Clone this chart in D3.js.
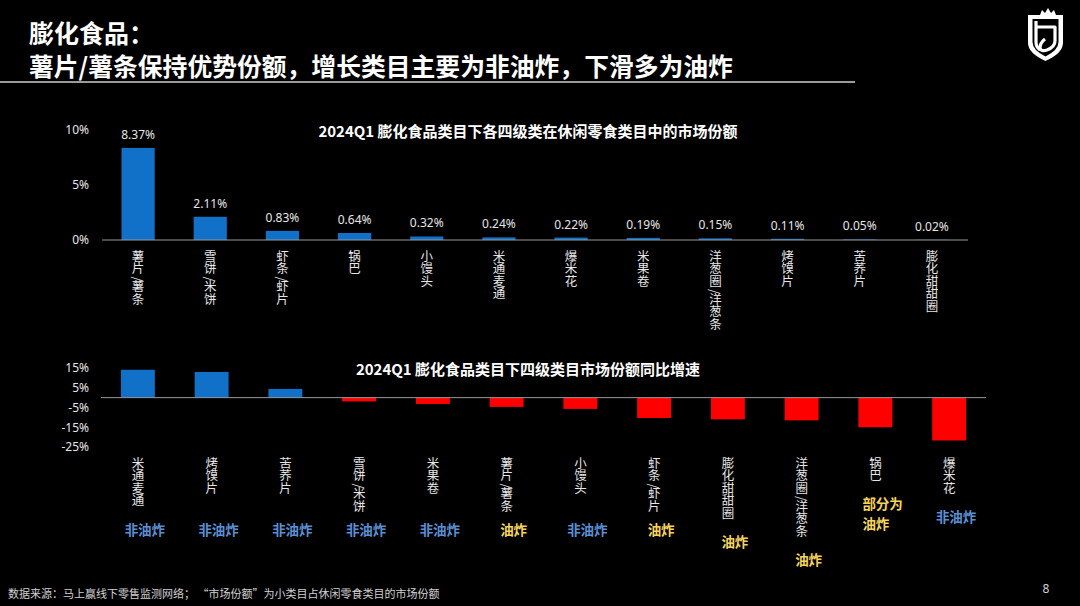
<!DOCTYPE html>
<html>
<head>
<meta charset="utf-8">
<script src="https://cdn.jsdelivr.net/npm/d3@7"></script>
<style>
  html, body { margin: 0; padding: 0; background: #000; }
  svg { display: block; font-family: "Noto Sans CJK SC", "Noto Sans", sans-serif; }
</style>
</head>
<body>
<div id="chart"></div>
<script>
// market share of each sub-category, 2024Q1 (%)
var shareCats = ["薯片/薯条", "雪饼/米饼", "虾条/虾片", "锅巴", "小馒头", "米通麦通", "爆米花", "米果卷", "洋葱圈/洋葱条", "烤馍片", "苦荞片", "膨化甜甜圈"];
var shareVals = [8.37, 2.11, 0.83, 0.64, 0.32, 0.24, 0.22, 0.19, 0.15, 0.11, 0.05, 0.02];
var shareTicks = [0, 5, 10];

// year-on-year growth of market share (%)
var growthCats = ["米通麦通", "烤馍片", "苦荞片", "雪饼/米饼", "米果卷", "薯片/薯条", "小馒头", "虾条/虾片", "膨化甜甜圈", "洋葱圈/洋葱条", "锅巴", "爆米花"];
var growthVals = [14.1, 13.0, 4.4, -1.9, -3.2, -4.7, -5.7, -10.3, -11.0, -11.5, -15.0, -21.7];
var growthTicks = [15, 5, -5, -15, -25];
var growthNotes = ["非油炸", "非油炸", "非油炸", "非油炸", "非油炸", "油炸", "非油炸", "油炸", "油炸", "油炸", "部分为\n油炸", "非油炸"];

var width = 1080
var height = 606
var blue = "#1170c8"
var red = "#ff0000"
var textCol = "#e6e6e6"
var lineCol = "#9a9a9a"
var labelSize = 12.5

var svg = d3.select("#chart")
	.append("svg")
	.attr("width", width)
	.attr("height", height);

svg.append("rect")
	.attr("width", width)
	.attr("height", height)
	.attr("fill", "#000");

// header
svg.append("text")
	.attr("x", 29).attr("y", 32)
	.attr("dominant-baseline", "central")
	.attr("fill", "#fff")
	.style("font-size", "25px").style("font-weight", "bold")
	.text("膨化食品：");
svg.append("text")
	.attr("x", 29).attr("y", 65)
	.attr("dominant-baseline", "central")
	.attr("fill", "#fff")
	.style("font-size", "24.8px").style("font-weight", "bold")
	.text("薯片/薯条保持优势份额，增长类目主要为非油炸，下滑多为油炸");
svg.append("line")
	.attr("x1", 0).attr("x2", 855)
	.attr("y1", 82).attr("y2", 82)
	.attr("stroke", "#cfcfcf")
	.attr("stroke-width", 1.5);

// logo (shield with crown)
var logo = svg.append("g").attr("transform", "translate(1028,8)");
logo.append("path")
	.attr("d", "M0,7 L12,7 L14,2 L17,5 L20,0 L23,5 L26,2 L28,7 L35,7 L35,35 Q35,45 17.5,53 Q0,45 0,35 Z")
	.attr("fill", "#fff");
logo.append("path")
	.attr("d", "M4.5,11 L30.5,11 L30.5,34 Q30.5,42 17.5,48.5 Q4.5,42 4.5,34 Z")
	.attr("fill", "#000");
logo.append("path")
	.attr("d", "M8,13 L8,34 Q8,39 12,42 M8,19 L27,19 L27,33 Q27,39 19,42 Q13,44 12,40 Q12,35 17,31")
	.attr("fill", "none")
	.attr("stroke", "#fff")
	.attr("stroke-width", 3.2)
	.attr("stroke-linejoin", "round");

// stack the axis label characters top to bottom
function verticalLabels(axisG, pad) {
	axisG.selectAll(".tick text").each(function (d) {
		var t = d3.select(this)
			.text(null)
			.attr("dy", null)
			.attr("y", null)
			.attr("text-anchor", "middle")
			.attr("fill", textCol)
			.style("font-size", labelSize + "px")
			.style("font-family", "\"Noto Sans CJK SC\", sans-serif");
		var y = pad;
		Array.from(d).forEach(function (c) {
			if (c == "/") {
				t.append("tspan")
					.attr("x", -0.2 * labelSize)
					.attr("y", y + 0.12 * labelSize)
					.attr("rotate", 90)
					.text(c);
				y += 0.45 * labelSize;
			} else {
				t.append("tspan")
					.attr("x", 0)
					.attr("y", y + 0.86 * labelSize)
					.text(c);
				y += 1.0 * labelSize;
			}
		});
	});
}

// ---------- top chart: market share ----------
var x1 = d3.scaleBand()
	.domain(shareCats)
	.range([102, 968])
	.paddingInner(0.54)
	.paddingOuter(0.27);
var y1 = d3.scaleLinear()
	.domain([0, 10])
	.range([240, 130]);

svg.append("text")
	.attr("x", 528).attr("y", 130)
	.attr("text-anchor", "middle")
	.attr("dominant-baseline", "central")
	.attr("fill", "#fff")
	.style("font-size", "15px").style("font-weight", "bold")
	.text("2024Q1 膨化食品类目下各四级类在休闲零食类目中的市场份额");

var yAxis1 = svg.append("g")
	.attr("transform", "translate(92,0)")
	.call(d3.axisLeft(y1).tickValues(shareTicks).tickSize(0).tickPadding(3).tickFormat(function (d) { return d + "%"; }));
yAxis1.select(".domain").remove();
yAxis1.selectAll("text")
	.attr("fill", textCol)
	.style("font-size", "12px")
	.style("font-family", "\"Noto Sans\", sans-serif");

svg.append("g").selectAll("rect")
	.data(shareVals)
	.enter()
	.append("rect")
	.attr("x", function (d, i) { return x1(shareCats[i]); })
	.attr("y", function (d) { return y1(d); })
	.attr("width", x1.bandwidth())
	.attr("height", function (d) { return y1(0) - y1(d); })
	.attr("fill", blue);

svg.append("g").selectAll("text")
	.data(shareVals)
	.enter()
	.append("text")
	.attr("x", function (d, i) { return x1(shareCats[i]) + x1.bandwidth() / 2; })
	.attr("y", function (d) { return y1(d) - 9; })
	.attr("text-anchor", "middle")
	.attr("fill", textCol)
	.style("font-size", "12px")
	.style("font-family", "\"Noto Sans\", sans-serif")
	.text(function (d) { return d3.format(".2f")(d) + "%"; });

svg.append("line")
	.attr("x1", 102).attr("x2", 968)
	.attr("y1", y1(0)).attr("y2", y1(0))
	.attr("stroke", lineCol)
	.attr("stroke-width", 1);

var xAxis1 = svg.append("g")
	.attr("transform", "translate(0," + y1(0) + ")")
	.call(d3.axisBottom(x1).tickSize(0));
xAxis1.select(".domain").remove();
verticalLabels(xAxis1, 10);

// ---------- bottom chart: growth ----------
var x2 = d3.scaleBand()
	.domain(growthCats)
	.range([101, 986])
	.paddingInner(0.54)
	.paddingOuter(0.27);
var y2 = d3.scaleLinear()
	.domain([-25, 15])
	.range([447, 368]);

svg.append("text")
	.attr("x", 528).attr("y", 368)
	.attr("text-anchor", "middle")
	.attr("dominant-baseline", "central")
	.attr("fill", "#fff")
	.style("font-size", "15px").style("font-weight", "bold")
	.text("2024Q1 膨化食品类目下四级类目市场份额同比增速");

var yAxis2 = svg.append("g")
	.attr("transform", "translate(92,0)")
	.call(d3.axisLeft(y2).tickValues(growthTicks).tickSize(0).tickPadding(3).tickFormat(function (d) { return d + "%"; }));
yAxis2.select(".domain").remove();
yAxis2.selectAll("text")
	.attr("fill", textCol)
	.style("font-size", "12px")
	.style("font-family", "\"Noto Sans\", sans-serif");

svg.append("g").selectAll("rect")
	.data(growthVals)
	.enter()
	.append("rect")
	.attr("x", function (d, i) { return x2(growthCats[i]); })
	.attr("y", function (d) { return y2(Math.max(0, d)); })
	.attr("width", x2.bandwidth())
	.attr("height", function (d) { return Math.abs(y2(d) - y2(0)); })
	.attr("fill", function (d) { return d >= 0 ? blue : red; });

svg.append("line")
	.attr("x1", 101).attr("x2", 986)
	.attr("y1", y2(0)).attr("y2", y2(0))
	.attr("stroke", lineCol)
	.attr("stroke-width", 1);

var xAxis2 = svg.append("g")
	.attr("transform", "translate(0," + y2(-25) + ")")
	.call(d3.axisBottom(x2).tickSize(0));
xAxis2.select(".domain").remove();
verticalLabels(xAxis2, 10);

// fried / non-fried notes under the labels
var hugLabel = new Set(["锅巴", "爆米花"]);
var notes = svg.append("g");
xAxis2.selectAll(".tick").each(function (cat) {
	var i = growthCats.indexOf(cat);
	var bb = d3.select(this).select("text").node().getBBox();
	var end = y2(-25) + bb.y + bb.height;
	var cy = (hugLabel.has(cat) || end + 19 > 536) ? end + 19 : 529;
	var cx = x2(cat) + x2.bandwidth() / 2 + 7;
	var lines = growthNotes[i].split("\n");
	var col = growthNotes[i] == "非油炸" ? "#5b8fd3" : "#f6d55c";
	lines.forEach(function (t, k) {
		notes.append("text")
			.attr("x", lines.length > 1 ? cx - 20 : cx)
			.attr("y", cy + k * 20)
			.attr("text-anchor", lines.length > 1 ? "start" : "middle")
			.attr("dominant-baseline", "central")
			.attr("fill", col)
			.style("font-size", "13.5px").style("font-weight", "bold")
			.text(t);
	});
});

// footer
svg.append("text")
	.attr("x", 8).attr("y", 593)
	.attr("dominant-baseline", "central")
	.attr("fill", "#d0d0d0")
	.style("font-size", "11px")
	.text("数据来源：马上赢线下零售监测网络；   “市场份额”为小类目占休闲零食类目的市场份额");
svg.append("text")
	.attr("x", 1046).attr("y", 588)
	.attr("text-anchor", "middle")
	.attr("dominant-baseline", "central")
	.attr("fill", "#d0d0d0")
	.style("font-size", "12px")
	.style("font-family", "\"Noto Sans\", sans-serif")
	.text("8");
</script>
</body>
</html>
